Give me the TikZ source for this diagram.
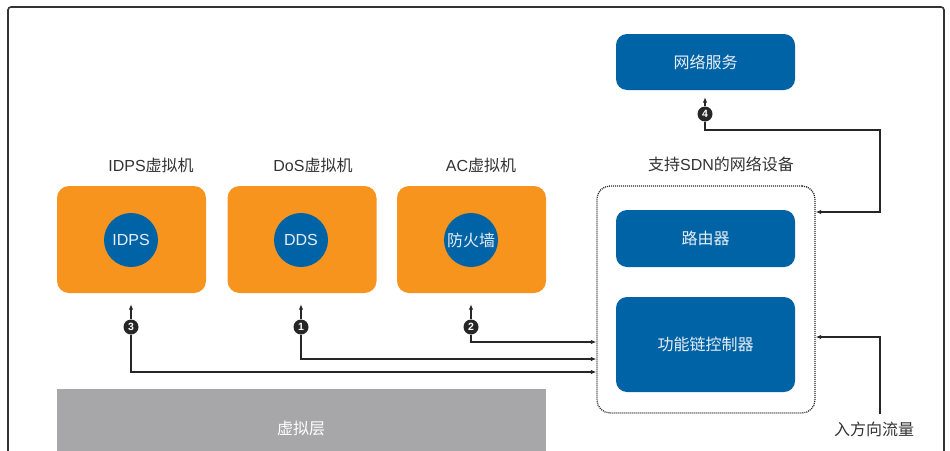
\documentclass[tikz,border=0pt]{standalone}
\usepackage{fontspec}
\setmainfont{Liberation Sans}
\newfontfamily\cjk{Noto Sans CJK SC}
\usetikzlibrary{arrows.meta,calc}
\definecolor{orng}{HTML}{F7941D}
\definecolor{sdnblue}{HTML}{0063A6}
\definecolor{layergray}{HTML}{A7A7AA}
\definecolor{txt}{HTML}{333333}
\definecolor{linec}{HTML}{262626}
\definecolor{pale}{HTML}{E8EEF5}
\begin{document}
\begin{tikzpicture}[x=1pt,y=-1pt,
  vmbox/.style={fill=orng, draw=none, rounded corners=12pt, minimum width=149pt, minimum height=107pt, inner sep=0pt},
  vmcirc/.style={circle, fill=sdnblue, minimum size=54pt, inner sep=0pt, text=pale, font=\fontsize{16}{18}\selectfont},
  bluebox/.style={fill=sdnblue, draw=none, rounded corners=11pt, minimum width=179pt, inner sep=0pt, text=pale, font=\fontsize{16}{18}\selectfont\cjk},
  toplbl/.style={text=txt, font=\fontsize{16}{18}\selectfont, inner sep=0pt},
  numc/.style={circle, fill=linec, minimum size=15pt, inner sep=0pt, text=white, font=\fontsize{10.5}{10.5}\selectfont\bfseries},
  arr/.style={draw=linec, line width=1.3pt, -{Latex[length=5.5pt,width=4.5pt]}},
  devbox/.style={draw=linec, line width=1.3pt, dash pattern=on 1pt off 1pt, rounded corners=13pt, minimum width=218pt, minimum height=227pt, inner sep=0pt}
]
\useasboundingbox (0,0) rectangle (950,450);
\clip (0,0) rectangle (950,450);
% outer frame
\draw[line width=1.6pt, draw=txt, rounded corners=3pt] (8,470) -- (8,7) -- (944,7) -- (944,470);

% virtual layer
\node[fill=layergray, minimum width=489pt, minimum height=80pt, inner sep=0pt] (layer) at (301.5,429) {};
\node[text=white, font=\fontsize{16}{18}\selectfont\cjk, inner sep=0pt] (layerlbl) at (301,428) {虚拟层};

% VM boxes
\node[vmbox] (idpsvm) at (131.5,239.5) {};
\node[vmbox] (dosvm) at (302,239.5) {};
\node[vmbox] (acvm) at (471.5,239.5) {};
\node[vmcirc] (idps) at (131,240) {IDPS};
\node[vmcirc] (dds) at (301,240) {DDS};
\node[vmcirc] (fw) at (471,240) {\cjk 防火墙};

\node[toplbl] (idpslbl) at (151,165) {IDPS{\cjk 虚拟机}};
\node[toplbl] (doslbl) at (313,165) {DoS{\cjk 虚拟机}};
\node[toplbl] (aclbl) at (481,165) {AC{\cjk 虚拟机}};

% SDN device
\node[devbox] (dev) at (706,299.5) {};
\node[toplbl] (devlbl) at (721,164) {{\cjk 支持}SDN{\cjk 的网络设备}};
\node[bluebox, minimum height=57pt] (router) at (705.5,238.5) {路由器};
\node[bluebox, minimum height=95pt] (ctrl) at (705.5,344.5) {功能链控制器};
\node[bluebox, minimum height=56pt] (svc) at (705.5,62) {网络服务};

% numbered markers
\node[numc] (n3) at (131,327) {3};
\node[numc] (n1) at (301,327) {1};
\node[numc] (n2) at (471,327) {2};
\node[numc] (n4) at (705,114) {4};

\draw[arr, shorten >=11pt] (n3.north) -- (n3.north |- idpsvm.south);
\draw[arr, shorten >=11pt] (n1.north) -- (n1.north |- dosvm.south);
\draw[arr, shorten >=11pt] (n2.north) -- (n2.north |- acvm.south);
\draw[arr, shorten >=7pt] (n4.north) -- (n4.north |- svc.south);

\draw[arr] (n2.south) |- (dev.west |- 0,342);
\draw[arr] (n1.south) |- (dev.west |- 0,359);
\draw[arr] (n3.south) |- (dev.west |- 0,372);

\draw[arr] (n4.south) |- (880,130) |- (dev.east |- 0,212);

% incoming traffic
\node[toplbl] (inlbl) at (874,429) {\cjk 入方向流量};
\draw[arr, shorten <=7pt] (inlbl.north -| 880,0) |- (dev.east |- 0,337);
\end{tikzpicture}
\end{document}
